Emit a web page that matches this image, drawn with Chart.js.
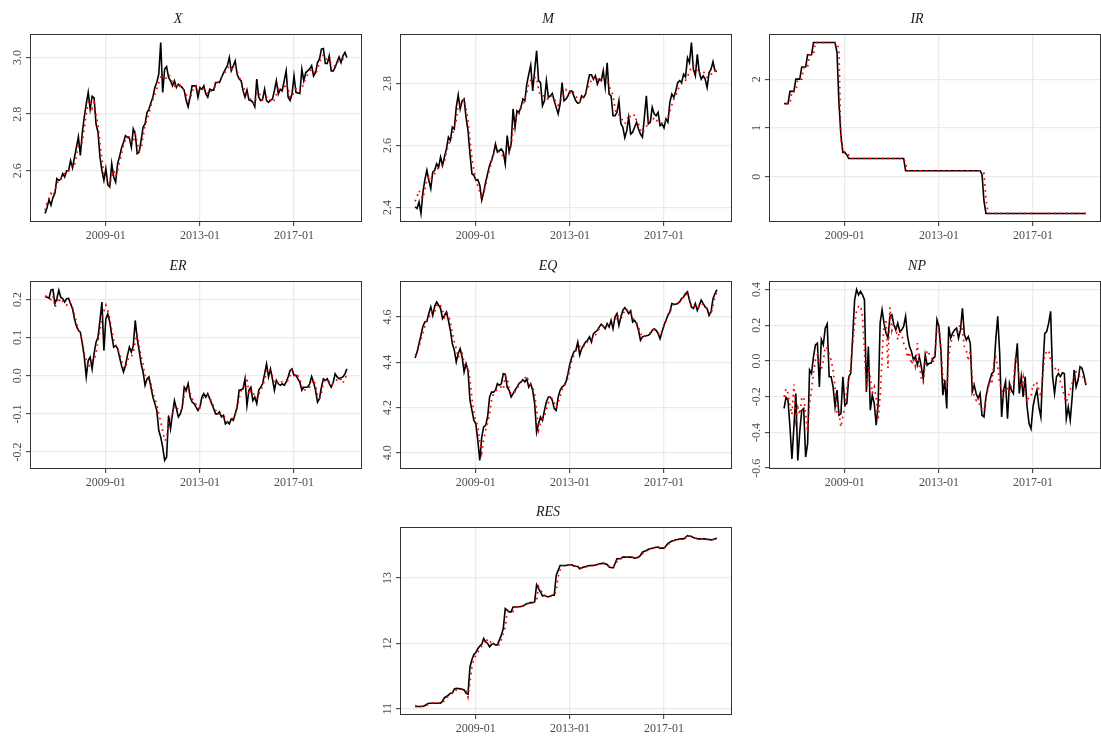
<!DOCTYPE html>
<html>
<head>
<meta charset="utf-8">
<script src="https://cdn.jsdelivr.net/npm/chart.js@4.4.1/dist/chart.umd.min.js"></script>
<style>
  html, body { margin: 0; padding: 0; background: #ffffff; }
  #page { position: relative; width: 1101px; height: 738px; overflow: hidden; }
  #page canvas { position: absolute; }
</style>
</head>
<body>
<div id="page"></div>
<script>
// monthly series, first observation 2006-06
const startYear = 2006;
const startMonth = 6;
const xTickLabels = ["2009-01", "2013-01", "2017-01"];

// X
const xActual = [
  2.449, 2.47, 2.498, 2.478, 2.505, 2.52, 2.572, 2.566, 2.57, 2.59,
  2.578, 2.60, 2.60, 2.636, 2.61, 2.648, 2.683, 2.72, 2.654, 2.736,
  2.79, 2.836, 2.877, 2.818, 2.863, 2.857, 2.765, 2.736, 2.648, 2.60,
  2.566, 2.607, 2.55, 2.543, 2.625, 2.578, 2.56, 2.625, 2.65, 2.68,
  2.70, 2.724, 2.718, 2.715, 2.683, 2.748, 2.73, 2.66, 2.666, 2.707,
  2.754, 2.765, 2.806, 2.818, 2.84, 2.86, 2.894, 2.912, 2.941, 3.053,
  2.877, 2.959, 2.968, 2.93, 2.918, 2.90, 2.918, 2.894, 2.906, 2.90,
  2.894, 2.883, 2.848, 2.826, 2.86, 2.90, 2.90, 2.90, 2.86, 2.894,
  2.888, 2.90, 2.871, 2.86, 2.888, 2.885, 2.885, 2.912, 2.912, 2.912,
  2.93, 2.945, 2.959, 2.971, 3.0, 2.953, 2.97, 2.988, 2.941, 2.924,
  2.918, 2.883, 2.86, 2.885, 2.85, 2.848, 2.842, 2.826, 2.924, 2.86,
  2.848, 2.853, 2.888, 2.848, 2.842, 2.85, 2.853, 2.883, 2.918, 2.871,
  2.888, 2.883, 2.918, 2.953, 2.86, 2.848, 2.871, 2.935, 2.877, 2.875,
  2.873, 2.959, 2.918, 2.947, 2.953, 2.96, 2.971, 2.935, 2.947, 2.982,
  2.994, 3.03, 3.032, 2.979, 2.979, 3.006, 2.953, 2.953, 2.965, 2.985,
  3.002, 2.982, 3.006, 3.018, 3.0
];
const xFitted = [
  2.46, 2.49, 2.50, 2.52, 2.51, 2.53, 2.55, 2.57, 2.57, 2.58,
  2.59, 2.59, 2.60, 2.61, 2.625, 2.62, 2.65, 2.69, 2.70, 2.70,
  2.75, 2.80, 2.84, 2.85, 2.82, 2.84, 2.80, 2.76, 2.70, 2.64,
  2.59, 2.58, 2.57, 2.55, 2.58, 2.60, 2.58, 2.60, 2.63, 2.66,
  2.69, 2.71, 2.72, 2.72, 2.70, 2.70, 2.73, 2.70, 2.67, 2.68,
  2.72, 2.76, 2.78, 2.80, 2.83, 2.85, 2.87, 2.89, 2.91, 2.93,
  2.94, 2.92, 2.93, 2.94, 2.93, 2.91, 2.90, 2.91, 2.89, 2.90,
  2.89, 2.885, 2.87, 2.85, 2.85, 2.88, 2.89, 2.90, 2.88, 2.885,
  2.89, 2.89, 2.88, 2.87, 2.875, 2.885, 2.89, 2.90, 2.91, 2.92,
  2.93, 2.94, 2.95, 2.96, 2.97, 2.96, 2.96, 2.97, 2.95, 2.93,
  2.92, 2.90, 2.88, 2.87, 2.86, 2.85, 2.84, 2.835, 2.87, 2.88,
  2.86, 2.85, 2.86, 2.86, 2.85, 2.85, 2.84, 2.85, 2.87, 2.89,
  2.88, 2.88, 2.89, 2.91, 2.89, 2.86, 2.86, 2.88, 2.89, 2.88,
  2.88, 2.89, 2.91, 2.93, 2.94, 2.95, 2.96, 2.95, 2.94, 2.96,
  2.98, 3.00, 3.01, 3.00, 2.99, 2.99, 2.98, 2.97, 2.97, 2.98,
  2.99, 2.99, 2.995, 3.00, 2.995
];
const xYTicks = ["2.6", "2.8", "3.0"];

// M
const mActual = [
  2.402, 2.397, 2.418, 2.381, 2.45, 2.49, 2.52, 2.488, 2.461, 2.514,
  2.52, 2.541, 2.53, 2.563, 2.536, 2.563, 2.59, 2.627, 2.616, 2.659,
  2.653, 2.723, 2.763, 2.718, 2.744, 2.75, 2.691, 2.648, 2.573, 2.509,
  2.504, 2.488, 2.49, 2.472, 2.424, 2.45, 2.482, 2.509, 2.536, 2.552,
  2.573, 2.605, 2.579, 2.584, 2.589, 2.579, 2.541, 2.632, 2.579, 2.605,
  2.718, 2.659, 2.712, 2.707, 2.723, 2.75, 2.744, 2.798, 2.83, 2.859,
  2.776, 2.841, 2.905, 2.809, 2.803, 2.728, 2.744, 2.809, 2.755, 2.76,
  2.768, 2.744, 2.723, 2.702, 2.734, 2.803, 2.744, 2.75, 2.76, 2.776,
  2.776, 2.76, 2.744, 2.736, 2.739, 2.76, 2.755, 2.766, 2.798, 2.828,
  2.828, 2.814, 2.825, 2.798, 2.814, 2.809, 2.841, 2.789, 2.867, 2.766,
  2.76, 2.696, 2.696, 2.707, 2.744, 2.67, 2.659, 2.625, 2.648, 2.691,
  2.637, 2.643, 2.659, 2.675, 2.653, 2.637, 2.627, 2.691, 2.76, 2.67,
  2.675, 2.723, 2.702, 2.696, 2.707, 2.664, 2.67, 2.657, 2.686, 2.675,
  2.739, 2.766, 2.755, 2.776, 2.803, 2.809, 2.803, 2.83, 2.821, 2.883,
  2.867, 2.932, 2.846, 2.825, 2.894, 2.835, 2.814, 2.825, 2.814, 2.787,
  2.835, 2.846, 2.87, 2.841, 2.839
];
const mFitted = [
  2.42, 2.434, 2.455, 2.44, 2.43, 2.46, 2.49, 2.50, 2.49, 2.50,
  2.51, 2.52, 2.53, 2.53, 2.54, 2.55, 2.58, 2.60, 2.62, 2.63,
  2.66, 2.68, 2.73, 2.73, 2.74, 2.75, 2.72, 2.68, 2.62, 2.56,
  2.52, 2.49, 2.47, 2.45, 2.43, 2.45, 2.47, 2.50, 2.52, 2.55,
  2.57, 2.59, 2.59, 2.58, 2.58, 2.56, 2.57, 2.58, 2.58, 2.60,
  2.65, 2.68, 2.70, 2.70, 2.72, 2.73, 2.75, 2.77, 2.80, 2.81,
  2.81, 2.82, 2.82, 2.78, 2.76, 2.76, 2.76, 2.75, 2.75, 2.76,
  2.76, 2.75, 2.74, 2.73, 2.74, 2.76, 2.77, 2.78, 2.77, 2.77,
  2.78, 2.77, 2.76, 2.75, 2.74, 2.75, 2.76, 2.77, 2.78, 2.80,
  2.81, 2.82, 2.81, 2.81, 2.82, 2.81, 2.82, 2.82, 2.81, 2.79,
  2.78, 2.76, 2.72, 2.70, 2.70, 2.69, 2.68, 2.67, 2.68, 2.70,
  2.69, 2.69, 2.70, 2.68, 2.67, 2.65, 2.64, 2.65, 2.66, 2.68,
  2.68, 2.68, 2.69, 2.68, 2.68, 2.68, 2.67, 2.67, 2.68, 2.69,
  2.71, 2.73, 2.75, 2.76, 2.78, 2.79, 2.80, 2.80, 2.81, 2.82,
  2.84, 2.85, 2.86, 2.85, 2.84, 2.83, 2.84, 2.84, 2.83, 2.82,
  2.82, 2.83, 2.83, 2.84, 2.84
];
const mYTicks = ["2.4", "2.6", "2.8"];

// IR
const irActual = [
  1.5, 1.5, 1.5, 1.75, 1.75, 1.75, 2, 2, 2, 2.25,
  2.25, 2.25, 2.5, 2.5, 2.5, 2.75, 2.75, 2.75, 2.75, 2.75,
  2.75, 2.75, 2.75, 2.75, 2.75, 2.75, 2.75, 2.55, 1.5, 0.85,
  0.5, 0.5, 0.45, 0.375, 0.375, 0.375, 0.375, 0.375, 0.375, 0.375,
  0.375, 0.375, 0.375, 0.375, 0.375, 0.375, 0.375, 0.375, 0.375, 0.375,
  0.375, 0.375, 0.375, 0.375, 0.375, 0.375, 0.375, 0.375, 0.375, 0.375,
  0.375, 0.375, 0.125, 0.125, 0.125, 0.125, 0.125, 0.125, 0.125, 0.125,
  0.125, 0.125, 0.125, 0.125, 0.125, 0.125, 0.125, 0.125, 0.125, 0.125,
  0.125, 0.125, 0.125, 0.125, 0.125, 0.125, 0.125, 0.125, 0.125, 0.125,
  0.125, 0.125, 0.125, 0.125, 0.125, 0.125, 0.125, 0.125, 0.125, 0.125,
  0.125, 0.05, -0.5, -0.75, -0.75, -0.75, -0.75, -0.75, -0.75, -0.75,
  -0.75, -0.75, -0.75, -0.75, -0.75, -0.75, -0.75, -0.75, -0.75, -0.75,
  -0.75, -0.75, -0.75, -0.75, -0.75, -0.75, -0.75, -0.75, -0.75, -0.75,
  -0.75, -0.75, -0.75, -0.75, -0.75, -0.75, -0.75, -0.75, -0.75, -0.75,
  -0.75, -0.75, -0.75, -0.75, -0.75, -0.75, -0.75, -0.75, -0.75, -0.75,
  -0.75, -0.75, -0.75, -0.75, -0.75
];
const irFitted = [
  null, 1.5, 1.5, 1.5, 1.75, 1.75, 1.75, 2, 2, 2,
  2.25, 2.25, 2.25, 2.5, 2.5, 2.5, 2.75, 2.75, 2.75, 2.75,
  2.75, 2.75, 2.75, 2.75, 2.75, 2.75, 2.75, 2.75, 2.6, 0.75,
  0.55, 0.5, 0.5, 0.45, 0.375, 0.375, 0.375, 0.375, 0.375, 0.375,
  0.375, 0.375, 0.375, 0.375, 0.375, 0.375, 0.375, 0.375, 0.375, 0.375,
  0.375, 0.375, 0.375, 0.375, 0.375, 0.375, 0.375, 0.375, 0.375, 0.375,
  0.375, 0.375, 0.27, 0.125, 0.125, 0.125, 0.125, 0.125, 0.125, 0.125,
  0.125, 0.125, 0.125, 0.125, 0.125, 0.125, 0.125, 0.125, 0.125, 0.125,
  0.125, 0.125, 0.125, 0.125, 0.125, 0.125, 0.125, 0.125, 0.125, 0.125,
  0.125, 0.125, 0.125, 0.125, 0.125, 0.125, 0.125, 0.125, 0.125, 0.125,
  0.125, 0.125, 0.07, -0.45, -0.72, -0.75, -0.75, -0.75, -0.75, -0.75,
  -0.75, -0.75, -0.75, -0.75, -0.75, -0.75, -0.75, -0.75, -0.75, -0.75,
  -0.75, -0.75, -0.75, -0.75, -0.75, -0.75, -0.75, -0.75, -0.75, -0.75,
  -0.75, -0.75, -0.75, -0.75, -0.75, -0.75, -0.75, -0.75, -0.75, -0.75,
  -0.75, -0.75, -0.75, -0.75, -0.75, -0.75, -0.75, -0.75, -0.75, -0.75,
  -0.75, -0.75, -0.75, -0.75, -0.75
];
const irYTicks = ["0", "1", "2"];

// ER
const erActual = [
  0.208, 0.206, 0.203, 0.225, 0.226, 0.189, 0.202, 0.224, 0.206, 0.202,
  0.193, 0.202, 0.203, 0.189, 0.176, 0.149, 0.13, 0.119, 0.114, 0.084,
  0.049, -0.003, 0.04, 0.049, 0.018, 0.058, 0.088, 0.101, 0.145, 0.193,
  0.066, 0.149, 0.162, 0.141, 0.106, 0.075, 0.079, 0.071, 0.049, 0.027,
  0.01, 0.027, 0.053, 0.075, 0.062, 0.079, 0.145, 0.097, 0.066, 0.031,
  0.01, -0.025, -0.008, -0.003, -0.03, -0.056, -0.073, -0.091, -0.143, -0.161,
  -0.187, -0.222, -0.213, -0.104, -0.139, -0.10, -0.065, -0.086, -0.108, -0.10,
  -0.082, -0.03, -0.038, -0.021, -0.056, -0.069, -0.073, -0.082, -0.091, -0.082,
  -0.056, -0.047, -0.056, -0.047, -0.06, -0.073, -0.086, -0.10, -0.10, -0.095,
  -0.108, -0.104, -0.126, -0.121, -0.126, -0.113, -0.117, -0.10, -0.082, -0.038,
  -0.037, -0.034, -0.008, -0.078, -0.038, -0.03, -0.065, -0.056, -0.073, -0.038,
  -0.03, -0.021, 0.005, 0.031, -0.003, 0.018, -0.008, -0.038, -0.012, -0.021,
  -0.025, -0.021, -0.025, -0.017, -0.003, 0.014, 0.018, 0.001, 0.001, -0.008,
  -0.017, -0.038, -0.03, -0.03, -0.03, -0.021, -0.002, -0.017, -0.038, -0.069,
  -0.06, -0.03, -0.008, -0.012, -0.008, -0.021, -0.03, -0.017, 0.005, -0.003,
  -0.008, -0.005, -0.003, 0.005, 0.018
];
const erFitted = [
  0.21, 0.207, 0.205, 0.20, 0.21, 0.18, 0.19, 0.205, 0.19, 0.195,
  0.19, 0.185, 0.195, 0.19, 0.18, 0.16, 0.14, 0.12, 0.11, 0.09,
  0.06, 0.04, 0.02, 0.03, 0.04, 0.04, 0.06, 0.09, 0.12, 0.15,
  0.17, 0.185, 0.17, 0.15, 0.12, 0.095, 0.08, 0.07, 0.06, 0.04,
  0.02, 0.02, 0.04, 0.05, 0.05, 0.06, 0.09, 0.11, 0.08, 0.05,
  0.03, 0.0, -0.01, -0.01, -0.02, -0.045, -0.06, -0.075, -0.10, -0.12,
  -0.145, -0.17, -0.165, -0.12, -0.12, -0.10, -0.08, -0.08, -0.09, -0.09,
  -0.085, -0.05, -0.04, -0.03, -0.045, -0.06, -0.07, -0.075, -0.085, -0.085,
  -0.065, -0.055, -0.05, -0.05, -0.055, -0.07, -0.08, -0.09, -0.10, -0.10,
  -0.10, -0.105, -0.11, -0.12, -0.12, -0.115, -0.11, -0.10, -0.085, -0.06,
  -0.04, -0.035, -0.02, -0.005, -0.05, -0.04, -0.04, -0.055, -0.06, -0.05,
  -0.035, -0.03, -0.01, 0.01, 0.02, 0.01, 0.0, -0.02, -0.02, -0.015,
  -0.02, -0.015, -0.015, -0.015, -0.012, 0.0, 0.015, 0.01, -0.005, 0.0,
  -0.01, -0.025, -0.04, -0.035, -0.035, -0.03, -0.02, -0.01, -0.025, -0.05,
  -0.06, -0.045, -0.02, -0.01, -0.012, -0.015, -0.025, -0.02, -0.015, -0.01,
  -0.005, -0.01, -0.02, -0.005, 0.0
];
const erYTicks = ["-0.2", "-0.1", "0.0", "0.1", "0.2"];

// EQ
const eqActual = [
  4.419, 4.445, 4.482, 4.519, 4.559, 4.578, 4.581, 4.615, 4.644, 4.607,
  4.647, 4.666, 4.652, 4.637, 4.593, 4.607, 4.622, 4.585, 4.541, 4.482,
  4.453, 4.401, 4.438, 4.46, 4.423, 4.357, 4.394, 4.364, 4.232, 4.187,
  4.143, 4.128, 4.055, 3.966, 4.069, 4.114, 4.121, 4.158, 4.246, 4.268,
  4.268, 4.276, 4.305, 4.298, 4.305, 4.349, 4.347, 4.29, 4.276, 4.246,
  4.261, 4.276, 4.29, 4.305, 4.313, 4.323, 4.313, 4.327, 4.29, 4.305,
  4.276, 4.217, 4.091, 4.128, 4.158, 4.143, 4.187, 4.224, 4.246, 4.246,
  4.232, 4.195, 4.187, 4.246, 4.276, 4.29, 4.298, 4.313, 4.349, 4.394,
  4.423, 4.445, 4.453, 4.489, 4.431, 4.46, 4.475, 4.489, 4.497, 4.512,
  4.489, 4.526, 4.534, 4.541, 4.556, 4.568, 4.559, 4.548, 4.571, 4.556,
  4.585, 4.548, 4.60, 4.615, 4.563, 4.60, 4.629, 4.641, 4.629, 4.615,
  4.627, 4.578, 4.585, 4.571, 4.541, 4.497, 4.512, 4.515, 4.517, 4.519,
  4.526, 4.541, 4.548, 4.541, 4.526, 4.504, 4.534, 4.563, 4.585, 4.607,
  4.622, 4.659, 4.656, 4.656, 4.659, 4.666, 4.681, 4.688, 4.703, 4.711,
  4.674, 4.644, 4.637, 4.659, 4.629, 4.652, 4.674, 4.659, 4.644, 4.637,
  4.607, 4.622, 4.681, 4.703, 4.721
];
const eqFitted = [
  4.43, 4.44, 4.47, 4.50, 4.53, 4.56, 4.58, 4.59, 4.62, 4.63,
  4.62, 4.65, 4.66, 4.65, 4.63, 4.60, 4.62, 4.61, 4.58, 4.53,
  4.49, 4.46, 4.42, 4.44, 4.44, 4.40, 4.37, 4.38, 4.32, 4.24,
  4.18, 4.14, 4.12, 4.05, 4.00, 4.06, 4.10, 4.13, 4.17, 4.23,
  4.26, 4.27, 4.28, 4.29, 4.29, 4.28, 4.34, 4.33, 4.28, 4.26,
  4.26, 4.27, 4.28, 4.30, 4.31, 4.32, 4.33, 4.34, 4.31, 4.30,
  4.29, 4.26, 4.19, 4.10, 4.13, 4.15, 4.16, 4.19, 4.22, 4.24,
  4.24, 4.22, 4.20, 4.22, 4.25, 4.28, 4.29, 4.31, 4.33, 4.37,
  4.41, 4.43, 4.45, 4.46, 4.47, 4.46, 4.47, 4.48, 4.49, 4.50,
  4.50, 4.51, 4.52, 4.53, 4.55, 4.56, 4.56, 4.555, 4.56, 4.57,
  4.57, 4.57, 4.58, 4.61, 4.60, 4.59, 4.61, 4.63, 4.635, 4.62,
  4.62, 4.60, 4.58, 4.575, 4.555, 4.53, 4.51, 4.515, 4.52, 4.525,
  4.53, 4.54, 4.545, 4.54, 4.53, 4.52, 4.54, 4.56, 4.58, 4.61,
  4.62, 4.64, 4.655, 4.655, 4.66, 4.67, 4.68, 4.69, 4.70, 4.70,
  4.68, 4.65, 4.64, 4.65, 4.64, 4.645, 4.66, 4.655, 4.645, 4.635,
  4.62, 4.61, 4.65, 4.69, 4.71
];
const eqYTicks = ["4.0", "4.2", "4.4", "4.6"];

// NP
const npActual = [
  -0.266, -0.204, -0.22, -0.37, -0.548, -0.37, -0.182, -0.557, -0.398, -0.276,
  -0.266, -0.538, -0.463, -0.05, -0.07, 0.024, 0.09, 0.10, -0.145, 0.12,
  0.09, 0.184, 0.208, -0.088, -0.088, -0.145, -0.257, -0.163, -0.304, -0.295,
  -0.088, -0.248, -0.238, -0.088, -0.07, 0.137, 0.343, 0.40, 0.37, 0.39,
  0.37, 0.343, -0.173, 0.081, -0.276, -0.191, -0.238, -0.36, -0.238, 0.212,
  0.287, 0.212, 0.156, 0.128, 0.25, 0.259, 0.203, 0.174, 0.212, 0.165,
  0.174, 0.193, 0.25, 0.137, 0.081, 0.053, 0.006, 0.024, -0.023, 0.024,
  -0.032, -0.098, 0.034, -0.023, -0.013, -0.013, 0.015, 0.024, 0.231, 0.193,
  0.06, -0.191, -0.107, -0.266, 0.193, 0.128, 0.156, 0.174, 0.184, 0.128,
  0.174, 0.295, 0.146, 0.118, 0.137, 0.099, -0.173, -0.135, -0.182, -0.21,
  -0.182, -0.304, -0.313, -0.201, -0.145, -0.107, -0.07, -0.06, 0.118, 0.25,
  0.043, -0.313, -0.163, -0.116, -0.323, -0.126, -0.163, -0.182, -0.013, 0.099,
  -0.182, -0.088, -0.201, -0.088, -0.257, -0.35, -0.379, -0.257, -0.201, -0.163,
  -0.257, -0.313, -0.051, 0.155, 0.165, 0.212, 0.278, -0.088, -0.182, -0.088,
  -0.07, -0.088, -0.066, -0.07, -0.323, -0.257, -0.332, -0.201, -0.051, -0.145,
  -0.107, -0.032, -0.041, -0.079, -0.135
];
const npFitted = [
  -0.20, -0.155, -0.18, -0.25, -0.30, -0.13, -0.33, -0.26, -0.30, -0.21,
  -0.20, -0.30, -0.40, -0.24, -0.16, -0.07, 0.005, 0.035, -0.01, -0.05,
  0.0, 0.08, 0.07, 0.04, 0.005, -0.05, -0.145, -0.30, -0.29, -0.37,
  -0.31, -0.26, -0.16, -0.11, -0.03, 0.09, 0.21, 0.28, 0.305, 0.31,
  0.25, 0.06, -0.17, -0.03, -0.09, -0.18, -0.145, -0.21, -0.33, -0.20,
  0.025, 0.21, 0.23, -0.04, 0.30, 0.17, 0.21, 0.19, 0.12, 0.17,
  0.15, 0.10, 0.08, 0.02, 0.05, -0.02, 0.015, -0.03, 0.10, -0.02,
  -0.10, -0.12, -0.01, 0.06, 0.04, 0.03, -0.01, 0.04, 0.18, 0.19,
  0.08, -0.09, -0.12, -0.16, 0.02, 0.10, 0.13, 0.15, 0.155, 0.17,
  0.22, 0.17, 0.08, 0.06, 0.0, 0.06, -0.09, -0.20, -0.22, -0.20,
  -0.26, -0.28, -0.28, -0.20, -0.16, -0.11, -0.13, -0.01, 0.02, -0.03,
  -0.13, -0.15, -0.20, -0.15, -0.15, -0.18, -0.13, -0.13, 0.02, -0.01,
  -0.09, -0.145, -0.09, -0.18, -0.23, -0.20, -0.20, -0.13, -0.145, -0.125,
  -0.16, -0.20, -0.09, 0.04, 0.05, 0.06, 0.0, -0.02, -0.03, -0.06,
  -0.05, -0.12, -0.15, -0.20, -0.23, -0.20, -0.16, -0.125, -0.09, -0.06,
  -0.07, -0.09, -0.08, -0.10, -0.125
];
const npYTicks = ["-0.6", "-0.4", "-0.2", "0.0", "0.2", "0.4"];

// RES
const resActual = [
  11.036, 11.036, 11.036, 11.036, 11.036, 11.05, 11.07, 11.086, 11.086, 11.086,
  11.086, 11.086, 11.086, 11.086, 11.12, 11.17, 11.188, 11.21, 11.239, 11.239,
  11.30, 11.315, 11.31, 11.305, 11.30, 11.289, 11.239, 11.223, 11.64, 11.75,
  11.83, 11.86, 11.92, 11.96, 11.985, 12.076, 12.025, 12.0, 11.949, 11.985,
  12.0, 11.975, 11.975, 12.05, 12.127, 12.228, 12.533, 12.508, 12.482, 12.482,
  12.558, 12.558, 12.558, 12.56, 12.565, 12.574, 12.59, 12.609, 12.615, 12.624,
  12.624, 12.635, 12.898, 12.838, 12.787, 12.726, 12.736, 12.72, 12.711, 12.726,
  12.736, 12.736, 13.04, 13.117, 13.193, 13.193, 13.193, 13.193, 13.2, 13.203,
  13.203, 13.183, 13.18, 13.178, 13.142, 13.155, 13.168, 13.175, 13.183, 13.19,
  13.193, 13.193, 13.2, 13.208, 13.218, 13.22, 13.228, 13.22, 13.208, 13.168,
  13.16, 13.157, 13.218, 13.294, 13.294, 13.30, 13.32, 13.32, 13.32, 13.32,
  13.32, 13.315, 13.305, 13.31, 13.32, 13.345, 13.396, 13.41, 13.421, 13.44,
  13.447, 13.455, 13.462, 13.47, 13.472, 13.457, 13.457, 13.457, 13.49, 13.53,
  13.548, 13.565, 13.574, 13.585, 13.589, 13.599, 13.599, 13.599, 13.624, 13.65,
  13.64, 13.635, 13.62, 13.609, 13.60, 13.599, 13.599, 13.599, 13.599, 13.59,
  13.589, 13.584, 13.59, 13.599, 13.609
];
const resFitted = [
  11.05, 11.04, 11.04, 11.04, 11.04, 11.04, 11.055, 11.075, 11.09, 11.09,
  11.09, 11.09, 11.09, 11.09, 11.09, 11.13, 11.17, 11.19, 11.22, 11.24,
  11.24, 11.29, 11.31, 11.31, 11.305, 11.30, 11.28, 11.18, 11.40, 11.64,
  11.75, 11.82, 11.86, 11.92, 11.96, 12.0, 12.08, 12.03, 12.0, 12.05,
  11.99, 11.99, 11.98, 11.98, 12.06, 12.14, 12.25, 12.48, 12.51, 12.50,
  12.49, 12.54, 12.56, 12.56, 12.56, 12.57, 12.58, 12.60, 12.615, 12.62,
  12.625, 12.63, 12.65, 12.87, 12.82, 12.77, 12.73, 12.73, 12.72, 12.72,
  12.73, 12.74, 12.80, 13.02, 13.12, 13.18, 13.19, 13.19, 13.195, 13.20,
  13.20, 13.19, 13.18, 13.175, 13.16, 13.15, 13.16, 13.17, 13.18, 13.19,
  13.19, 13.195, 13.20, 13.205, 13.215, 13.22, 13.225, 13.22, 13.21, 13.18,
  13.165, 13.16, 13.18, 13.25, 13.29, 13.295, 13.31, 13.32, 13.32, 13.32,
  13.32, 13.32, 13.31, 13.31, 13.315, 13.33, 13.37, 13.40, 13.415, 13.43,
  13.445, 13.45, 13.46, 13.465, 13.47, 13.465, 13.46, 13.46, 13.475, 13.51,
  13.54, 13.555, 13.57, 13.58, 13.585, 13.595, 13.60, 13.60, 13.61, 13.635,
  13.645, 13.64, 13.625, 13.61, 13.605, 13.60, 13.60, 13.60, 13.60, 13.595,
  13.59, 13.585, 13.59, 13.595, 13.605
];
const resYTicks = ["11", "12", "13"];

// panel grid (facet layout)
const panels = [
  { title: "X",   actual: xActual,   fitted: xFitted,   yTicks: xYTicks,   col: 0, row: 0 },
  { title: "M",   actual: mActual,   fitted: mFitted,   yTicks: mYTicks,   col: 1, row: 0 },
  { title: "IR",  actual: irActual,  fitted: irFitted,  yTicks: irYTicks,  col: 2, row: 0 },
  { title: "ER",  actual: erActual,  fitted: erFitted,  yTicks: erYTicks,  col: 0, row: 1 },
  { title: "EQ",  actual: eqActual,  fitted: eqFitted,  yTicks: eqYTicks,  col: 1, row: 1 },
  { title: "NP",  actual: npActual,  fitted: npFitted,  yTicks: npYTicks,  col: 2, row: 1 },
  { title: "RES", actual: resActual, fitted: resFitted, yTicks: resYTicks, col: 1, row: 2 }
];

const colLeft = [30, 400, 769];
const rowTop = [34, 281, 527];
const plotW = 332, plotH = 188;
const padL = 36, padT = 34, padB = 26, padR = 3;

const serif = '"Liberation Serif", "DejaVu Serif", serif';
const textGrey = "#4d4d4d";

function monthIndex(label) {
  const parts = label.split("-").map(Number);
  return (parts[0] - startYear) * 12 + (parts[1] - startMonth);
}
const xTickPos = xTickLabels.map(monthIndex);

function expandRange(lo, hi) {
  const e = (hi - lo) * 0.05;
  return [lo - e, hi + e];
}

// panel border + rotated y labels (ggplot style)
const facetPlugin = {
  id: "facet",
  afterDraw(chart) {
    const ctx = chart.ctx;
    const a = chart.chartArea;
    const ys = chart.scales.y;
    ctx.save();
    ctx.strokeStyle = "#333333";
    ctx.lineWidth = 1;
    ctx.strokeRect(a.left + 0.5, a.top + 0.5, a.right - a.left - 1, a.bottom - a.top - 1);
    ctx.fillStyle = textGrey;
    ctx.font = "12px " + serif;
    ctx.textAlign = "center";
    ctx.textBaseline = "middle";
    ys.ticks.forEach(t => {
      const py = ys.getPixelForValue(t.value);
      ctx.save();
      ctx.translate(a.left - 12.5, py);
      ctx.rotate(-Math.PI / 2);
      ctx.fillText(t.text, 0, 0);
      ctx.restore();
    });
    ctx.restore();
  }
};

const page = document.getElementById("page");

panels.forEach(p => {
  const canvas = document.createElement("canvas");
  const w = padL + plotW + padR, h = padT + plotH + padB;
  canvas.width = w;
  canvas.height = h;
  canvas.style.width = w + "px";
  canvas.style.height = h + "px";
  canvas.style.left = (colLeft[p.col] - padL) + "px";
  canvas.style.top = (rowTop[p.row] - padT) + "px";
  page.appendChild(canvas);

  const vals = p.actual.concat(p.fitted).filter(v => v !== null);
  const yr = expandRange(Math.min(...vals), Math.max(...vals));
  const xr = expandRange(0, p.actual.length - 1);

  new Chart(canvas, {
    type: "line",
    data: {
      datasets: [{
        label: "actual",
        data: p.actual.map((v, i) => ({ x: i, y: v })),
        borderColor: "#000000",
        borderWidth: 1.6,
        pointRadius: 0,
        tension: 0,
        order: 2
      }, {
        label: "fitted",
        data: p.fitted.map((v, i) => ({ x: i, y: v })),
        borderColor: "#ff0000",
        borderWidth: 1.7,
        borderDash: [1.7, 4.2],
        borderCapStyle: "butt",
        pointRadius: 0,
        tension: 0,
        order: 1
      }]
    },
    options: {
      responsive: false,
      animation: false,
      events: [],
      layout: { padding: { left: 0, right: padR, top: 0, bottom: 0 } },
      plugins: {
        legend: { display: false },
        tooltip: { enabled: false },
        title: {
          display: true,
          text: p.title,
          color: "#1a1a1a",
          font: { family: serif, style: "italic", weight: "normal", size: 14 },
          padding: { top: 10.5, bottom: 6.7 }
        }
      },
      scales: {
        x: {
          type: "linear",
          min: xr[0],
          max: xr[1],
          bounds: "data",
          afterBuildTicks: s => { s.ticks = xTickPos.map(v => ({ value: v })); },
          afterFit: s => { s.height = padB; },
          ticks: {
            color: textGrey,
            font: { family: serif, size: 12 },
            padding: 3,
            maxRotation: 0,
            callback: v => xTickLabels[xTickPos.indexOf(v)]
          },
          grid: { color: "#ebebeb", lineWidth: 1.3, tickColor: "#333333", tickLength: 4, tickWidth: 1 },
          border: { display: false }
        },
        y: {
          type: "linear",
          min: yr[0],
          max: yr[1],
          bounds: "data",
          afterBuildTicks: s => { s.ticks = p.yTicks.map(t => ({ value: parseFloat(t), text: t })); },
          afterFit: s => { s.width = padL; },
          ticks: { display: false },
          grid: { color: "#ebebeb", lineWidth: 1.3, tickColor: "#333333", tickLength: 4, tickWidth: 1 },
          border: { display: false }
        }
      }
    },
    plugins: [facetPlugin]
  });
});
</script>
</body>
</html>
